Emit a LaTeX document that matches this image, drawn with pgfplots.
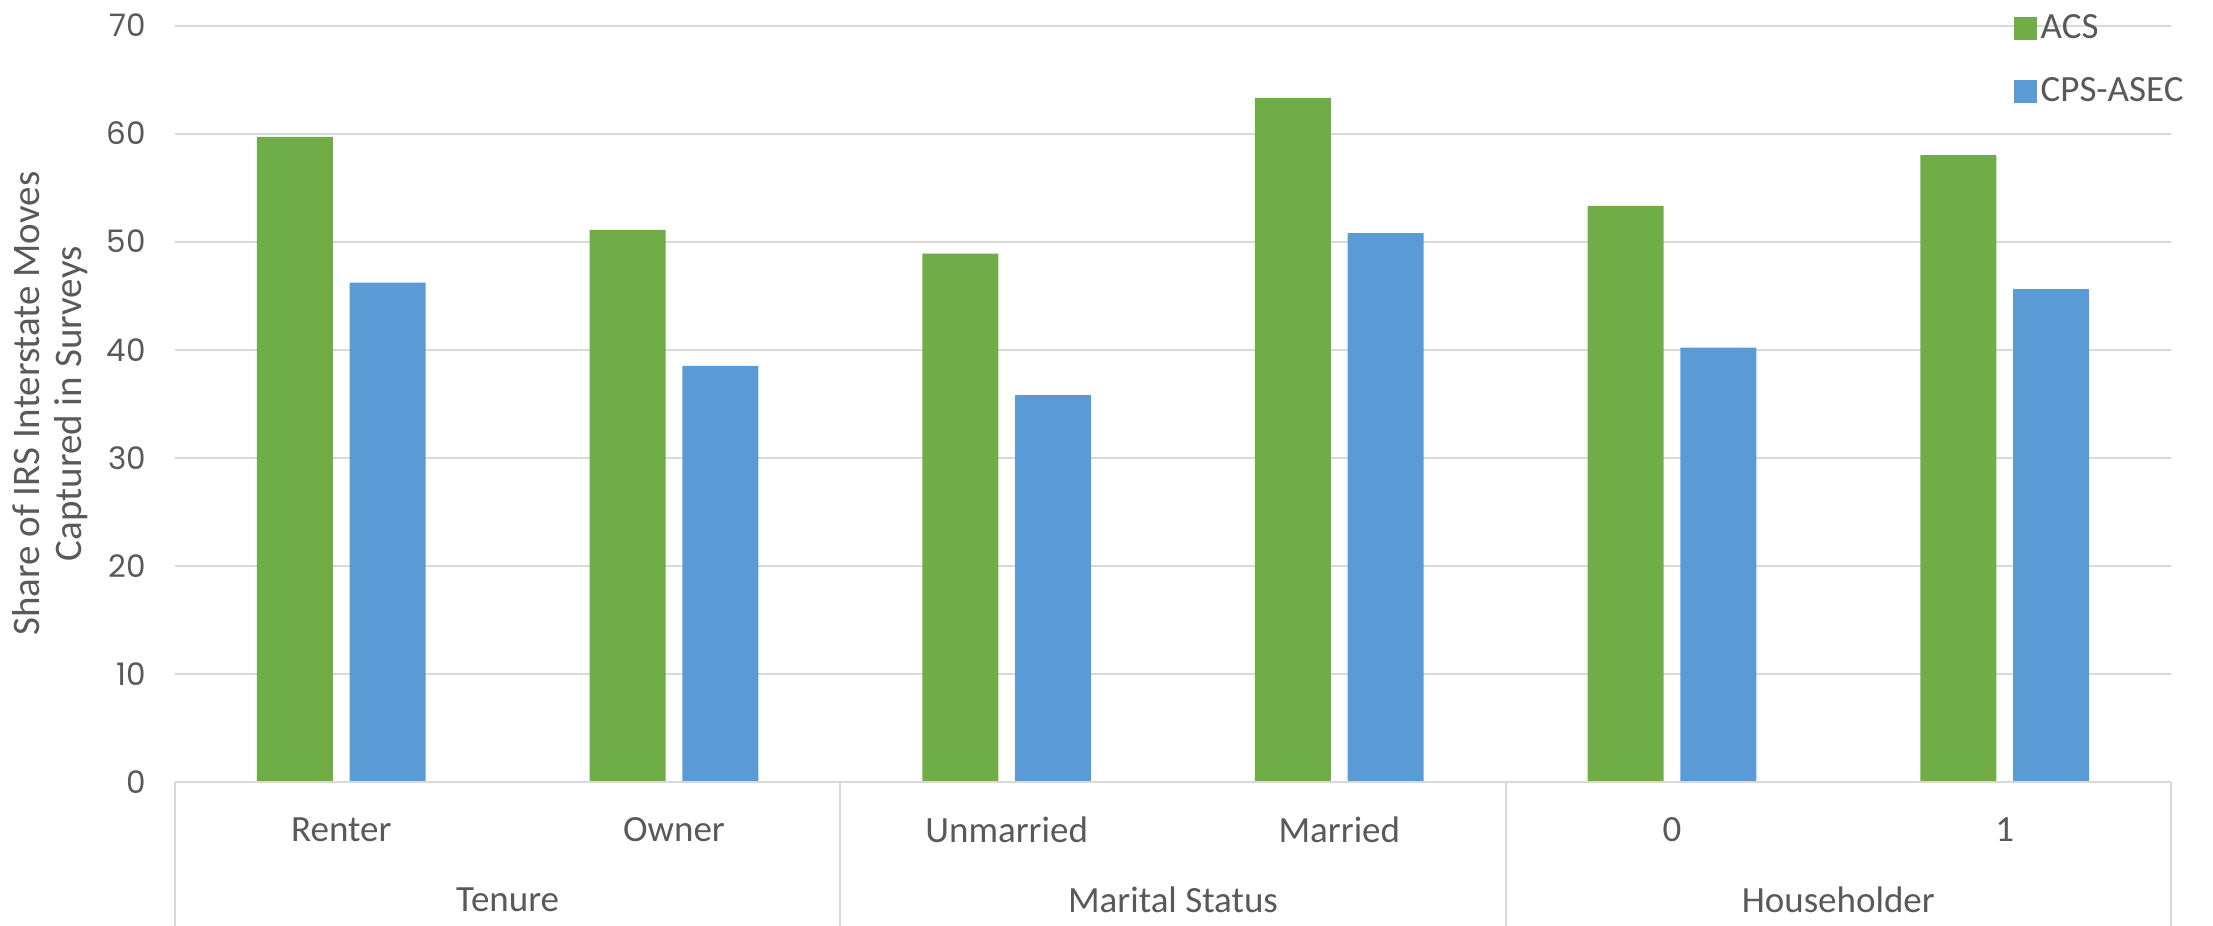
\documentclass[border=0pt]{standalone}
\usepackage{pgfplots}
\pgfplotsset{compat=1.18}
\usepackage{fontspec}
\setmainfont{Carlito}
\newfontfamily\numfont{Poppins}
\definecolor{acs}{HTML}{70AD47}
\definecolor{cps}{HTML}{5B9BD5}
\definecolor{gridc}{HTML}{D9D9D9}
\definecolor{txt}{HTML}{595959}
\newcommand{\lblfont}{\fontsize{18.5}{22}\selectfont}
\begin{document}
\begin{tikzpicture}
\useasboundingbox (0,0) rectangle (1106.5pt,463pt);
\begin{axis}[
  at={(87.5pt,72pt)}, anchor=south west,
  scale only axis, width=998pt, height=378.25pt,
  xmin=-0.5, xmax=5.5, ymin=0, ymax=70,
  ytick={0,10,...,70},
  xtick={0,...,5},
  xticklabels={Renter,Owner,Unmarried,Married,0,1},
  major tick length=0pt,
  axis line style={draw=none},
  ymajorgrids, grid style={gridc, line width=1pt},
  xticklabel style={font=\lblfont, text=txt, anchor=center, yshift=-24pt},
  yticklabel style={font=\numfont\fontsize{15.5}{18}\selectfont, text=txt, anchor=east, xshift=-11pt},
  /pgf/number format/assume math mode=true,
  ylabel={Share of IRS Interstate Moves\\Captured in Surveys},
  ylabel style={align=center, font=\fontsize{19.5}{21}\selectfont, text=txt, at={(axis description cs:-0.0625,0.5)}, anchor=center},
  clip=false,
  legend style={at={(axis description cs:0.921,1.02)}, anchor=north west, draw=none, fill=none, inner sep=0pt, font=\lblfont, text=txt, row sep=14pt, cells={anchor=west}},
  legend cell align=left,
  ybar, bar width=38pt,
]
\addplot[fill=acs, draw=none, bar shift=-23.2pt, legend image code/.code={\fill[acs] (0pt,-5.75pt) rectangle (11.5pt,5.75pt);}] coordinates {(0,59.7) (1,51.1) (2,48.9) (3,63.3) (4,53.3) (5,58.0)};
\addlegendentry{ACS}
\addplot[fill=cps, draw=none, bar shift=23.2pt, legend image code/.code={\fill[cps] (0pt,-5.75pt) rectangle (11.5pt,5.75pt);}] coordinates {(0,46.2) (1,38.5) (2,35.8) (3,50.8) (4,40.2) (5,45.6)};
\addlegendentry{CPS-ASEC}
\draw[gridc, line width=1pt] (axis cs:-0.5,0) -- (axis cs:5.5,0);
\pgfplotsinvokeforeach{-0.5,1.5,3.5,5.5}{\draw[gridc, line width=1pt] (axis cs:#1,0) -- ++(0pt,-72pt);}
\node[font=\lblfont, text=txt, yshift=-59pt] at (axis cs:0.5,0) {Tenure};
\node[font=\lblfont, text=txt, yshift=-59pt] at (axis cs:2.5,0) {Marital Status};
\node[font=\lblfont, text=txt, yshift=-59pt] at (axis cs:4.5,0) {Householder};
\end{axis}
\end{tikzpicture}
\end{document}
